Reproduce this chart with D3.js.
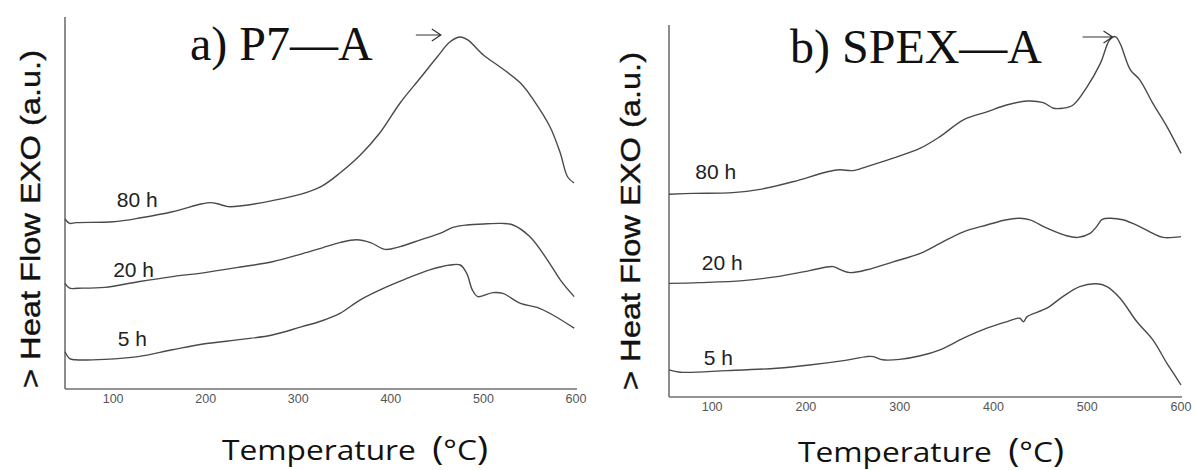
<!DOCTYPE html>
<html>
<head>
<meta charset="utf-8">
<script src="https://cdn.jsdelivr.net/npm/d3@7"></script>
<style>
  body { margin: 0; background: #fff; }
  svg { display: block; }
  .curve { fill: none; stroke: #4a4a4a; stroke-width: 1.4; }
  .axis-line { stroke: #707070; stroke-width: 1.6; }
  .tick-label { font-family: "Liberation Sans", Arial, sans-serif; font-size: 12.5px; fill: #555; }
  .series-label { font-family: "Liberation Sans", Arial, sans-serif; font-size: 21px; fill: #222; }
  .y-title { font-family: "Liberation Sans", Arial, sans-serif; font-size: 28px; fill: #111; stroke: #111; stroke-width: 0.4; }
  .x-title { font-family: "Open Sans", Lato, sans-serif; font-size: 27px; fill: #111; }
  .title { font-family: "Liberation Serif", "Times New Roman", serif; font-size: 48px; fill: #111; }
  .arrow { fill: none; stroke: #333; stroke-width: 1.2; }
</style>
</head>
<body>
<svg width="1196" height="470"></svg>
<script>
// data (temperature in °C, heat flow in a.u.)
const xTicks = [100, 200, 300, 400, 500, 600];
const seriesLabels = ['80 h', '20 h', '5 h'];

const p7_80h = [[48,42.5],[53,41.4],[60,41.6],[100,41.8],[130,42.8],[164,44.3],[196,46.3],[205,46.6],[213,46.3],[224,45.6],[239,45.8],[272,47.1],[304,48.8],[326,50.8],[345,54],[367,58.5],[388,64],[410,71.5],[432,77.8],[450,83],[464,86.8],[475,88],[483,87.3],[500,83.5],[518,80.5],[540,76.5],[554,72.3],[572,65.5],[583,59],[591,53],[598,51.5]];
const p7_20h = [[48,26.4],[53,25.2],[62,25.2],[91,25.4],[127,26.8],[164,28.1],[199,29.1],[235,30.4],[272,31.8],[304,33.8],[326,35.3],[345,36.6],[363,37.3],[378,36.6],[394,34.9],[410,35.6],[432,37.3],[453,38.9],[467,40.4],[482,41],[504,41.3],[520,41.4],[532,41],[550,38.1],[569,32.3],[583,27.3],[598,23.1]];
const p7_5h = [[48,9.3],[53,7.6],[59,7.3],[91,7.4],[127,8.1],[164,9.8],[199,11.3],[239,12.4],[272,13.5],[304,15.6],[325,17],[345,18.9],[367,22.3],[396,25.6],[418,27.7],[442,29.8],[464,31],[475,31],[482,28.9],[488,24.8],[494,23.1],[510,24.1],[521,23.9],[540,21.4],[558,20.4],[575,18.5],[598,15.2]];

const spex_80h = [[54,50.7],[80,50.9],[122,51.1],[151,51.9],[186,53.8],[223,56.3],[236,56.8],[250,56.6],[265,57.6],[293,59.7],[322,62.2],[343,65.1],[368,69.3],[393,71.3],[414,73],[436,74],[453,73.6],[464,72.2],[474,72.2],[485,73],[500,77.6],[514,83.4],[524,89.3],[530,90.1],[535,88.4],[546,81.8],[556,79.3],[570,73.4],[585,67.6],[600,60.9]];
const spex_20h = [[54,28.4],[87,28.6],[133,29.1],[169,30.1],[204,31.6],[229,32.6],[236,31.9],[247,31.1],[265,31.8],[293,33.8],[322,35.9],[343,38.4],[368,41.3],[393,43],[414,44.3],[428,44.7],[439,44.3],[457,42.2],[478,40.3],[490,39.9],[503,40.9],[510,42.6],[516,44.4],[524,44.7],[538,44.3],[556,42.6],[570,40.9],[581,39.9],[600,40.1]];
const spex_5h = [[54,6.8],[66,6.2],[116,6.6],[169,7.2],[204,8],[240,9.1],[265,10.1],[272,10.1],[282,9.3],[300,9.4],[322,10.3],[343,11.8],[368,14.7],[393,17.2],[414,18.8],[428,19.7],[432,18.8],[436,20.1],[457,22.2],[474,25.1],[492,27.6],[510,28.3],[521,27.6],[535,24.7],[553,18.8],[570,14.3],[585,8.4],[591,6.3],[600,3]];

// where the series names sit, in data units
const p7_labelAt = [[104,45.5],[100,28],[105,10.75]];
const spex_labelAt = [[82,54.5],[89,31.75],[91,8]];

// peak arrows, from / to in data units
const p7_arrow = [[427,88.5],[454,88.5]];
const spex_arrow = [[495,90],[527,90]];

const svg = d3.select('svg');

const panels = [
  { title: 'a) P7\u2014A', series: [p7_80h, p7_20h, p7_5h], labelAt: p7_labelAt, arrow: p7_arrow,
    tMin: 48, left: 65, right: 576, bottom: 389, titleX: 190, titleY: 60,
    yTitleX: 40, yTitleY: 219, xTitleX: 222, xTitleY: 460, tickY: 403 },
  { title: 'b) SPEX\u2014A', series: [spex_80h, spex_20h, spex_5h], labelAt: spex_labelAt, arrow: spex_arrow,
    tMin: 54, left: 669, right: 1181, bottom: 397, titleX: 790, titleY: 63,
    yTitleX: 640, yTitleY: 221, xTitleX: 798, xTitleY: 462, tickY: 411 }
];

panels.forEach(p => {
  const x = d3.scaleLinear().domain([p.tMin, 600]).range([p.left, p.right]);
  const y = d3.scaleLinear().domain([0, 93]).range([p.bottom, p.bottom - 372]);
  const g = svg.append('g');

  // axes: plain lines, labels without tick marks
  g.append('line').attr('class', 'axis-line')
    .attr('x1', x(p.tMin)).attr('x2', x(p.tMin))
    .attr('y1', y(0)).attr('y2', y(93));
  g.append('line').attr('class', 'axis-line')
    .attr('x1', x(p.tMin)).attr('x2', x(600) + 1)
    .attr('y1', y(0)).attr('y2', y(0));

  g.selectAll('.tick-label').data(xTicks).enter().append('text')
    .attr('class', 'tick-label')
    .attr('x', d => x(d))
    .attr('y', p.tickY)
    .attr('text-anchor', 'middle')
    .text(d => d);

  const lineGen = d3.line()
    .x(d => x(d[0]))
    .y(d => y(d[1]))
    .curve(d3.curveCatmullRom.alpha(0.5));

  g.selectAll('.curve').data(p.series).enter().append('path')
    .attr('class', 'curve')
    .attr('d', lineGen);

  g.selectAll('.series-label').data(p.labelAt).enter().append('text')
    .attr('class', 'series-label')
    .attr('x', d => x(d[0]))
    .attr('y', d => y(d[1]))
    .text((d, i) => seriesLabels[i]);

  // arrow pointing at the main peak
  const a0 = p.arrow[0], a1 = p.arrow[1];
  const ax = x(a1[0]), ay = y(a1[1]);
  g.append('path').attr('class', 'arrow')
    .attr('d', `M${x(a0[0])},${y(a0[1])}L${ax},${ay}M${ax - 9},${ay - 6}L${ax},${ay}L${ax - 9},${ay + 6}`);

  g.append('text')
    .attr('class', 'title')
    .attr('x', p.titleX)
    .attr('y', p.titleY)
    .text(p.title);

  g.append('text')
    .attr('class', 'y-title')
    .attr('transform', `translate(${p.yTitleX},${p.yTitleY}) rotate(-90)`)
    .attr('text-anchor', 'middle')
    .attr('textLength', 338)
    .attr('lengthAdjust', 'spacingAndGlyphs')
    .text('> Heat Flow EXO (a.u.)');

  const xt = g.append('text')
    .attr('class', 'x-title')
    .attr('x', p.xTitleX)
    .attr('y', p.xTitleY)
    .attr('textLength', 266)
    .attr('lengthAdjust', 'spacingAndGlyphs');
  xt.append('tspan').text('Temperature\u00a0\u00a0');
  xt.append('tspan').style('font-size', '32px').text('(');
  xt.append('tspan').text('\u00b0C');
  xt.append('tspan').style('font-size', '32px').text(')');
});
</script>
</body>
</html>
